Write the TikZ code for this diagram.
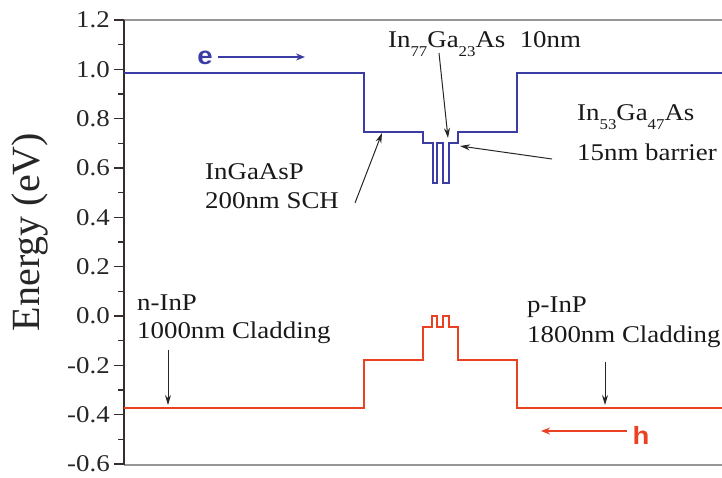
\documentclass[tikz,border=0pt]{standalone}
\usepackage{fontspec}
\setmainfont{Liberation Serif}[FakeStretch=1.12]
\newfontfamily\plainserif{Liberation Serif}
\newfontfamily\boldsans{Liberation Sans}[FakeStretch=1.1]
\usetikzlibrary{arrows.meta}
\definecolor{cband}{RGB}{60,60,165}
\definecolor{vband}{RGB}{235,65,35}
\definecolor{framegray}{RGB}{150,150,150}
\definecolor{axisdark}{RGB}{55,45,45}
\newcommand{\lsub}[1]{\raisebox{-0.4em}{\fontsize{15}{15}\selectfont #1}}
\begin{document}
\begin{tikzpicture}[x=1pt,y=-1pt,
  lbl/.style={font=\fontsize{24}{30}\selectfont, text=black!90, inner sep=0pt, anchor=base west},
  ticklbl/.style={font=\fontsize{24}{24}\selectfont, text=black!85, inner sep=0pt, anchor=east},
  cbline/.style={draw=cband, line width=2.8pt, line join=miter},
  vbline/.style={draw=vband, line width=2.8pt, line join=miter},
  pointer/.style={draw=black!85, line width=1pt, -{Stealth[length=10pt,width=6pt]}},
  carrier/.style={font=\boldsans\bfseries\fontsize{25}{25}\selectfont, inner sep=0pt},
  carrow/.style={line width=2pt, -{Stealth[length=9pt,width=7pt]}}
]
\useasboundingbox (0,0) rectangle (722,477);
% frame
\draw[framegray, line width=1.2pt] (124,20) -- (722,20);
\draw[framegray, line width=1.2pt] (124,465) -- (722,465);
\draw[axisdark, line width=1.5pt] (124,20) -- (124,465);
% ticks
\foreach \t [count=\k from 0] in {1.2,1.0,0.8,0.6,0.4,0.2,0.0,-0.2,-0.4,-0.6}{
  \draw[axisdark, line width=1.3pt] (114,{20+\k*49.333}) -- (124,{20+\k*49.333});
  \node[ticklbl] (tick\k) at (110,{20+\k*49.333}) {\t};
}
\foreach \k in {0,...,8}{
  \draw[axisdark, line width=1.3pt] (118,{44.667+\k*49.333}) -- (124,{44.667+\k*49.333});
}
\node[rotate=90, font=\plainserif\fontsize{40}{40}\selectfont, text=black!85] (ylabel) at (30,232) {Energy (eV)};
% bands
\draw[cbline] (124,73) -- (364,73) -- (364,132) -- (423,132) -- (423,143) -- (433,143) -- (433,183) -- (437,183) -- (437,143) -- (443,143) -- (443,183) -- (449,183) -- (449,143) -- (458,143) -- (458,132) -- (517,132) -- (517,73) -- (722,73);
\draw[vbline] (124,408) -- (364,408) -- (364,360) -- (423,360) -- (423,327) -- (432,327) -- (432,316) -- (437,316) -- (437,327) -- (443,327) -- (443,316) -- (449,316) -- (449,327) -- (458,327) -- (458,360) -- (517,360) -- (517,408) -- (722,408);
% carriers
\node[carrier, text=cband] (elab) at (205,58) {e};
\coordinate (estart) at (218,57);
\coordinate (eend) at (305,57);
\draw[carrow, cband] (estart) -- (eend);
\node[carrier, text=vband] (hlab) at (641,435) {h};
\coordinate (hstart) at (627,431);
\coordinate (hend) at (541,431);
\draw[carrow, vband] (hstart) -- (hend);
% labels
\node[lbl] (well) at (388,47) {In\lsub{77}Ga\lsub{23}As\hspace{0.6em}10nm};
\node[lbl] (bar1) at (577,120) {In\lsub{53}Ga\lsub{47}As};
\node[lbl] (bar2) at (577,160) {15nm barrier};
\node[lbl] (sch1) at (205,179) {InGaAsP};
\node[lbl] (sch2) at (205,208) {200nm SCH};
\node[lbl] (n1) at (137,310) {n-InP};
\node[lbl] (n2) at (137,338) {1000nm Cladding};
\node[lbl] (p1) at (527,312) {p-InP};
\node[lbl] (p2) at (527,342) {1800nm Cladding};
% pointers
\coordinate (wellS) at (439,53);  \coordinate (wellT) at (448,138);
\coordinate (barS) at (552,159);  \coordinate (barT) at (460,146);
\coordinate (schS) at (355,203);  \coordinate (schT) at (382,133);
\coordinate (nS) at (168,350);    \coordinate (nT) at (168,405);
\coordinate (pS) at (605,362);    \coordinate (pT) at (605,405);
\draw[pointer] (wellS) -- (wellT);
\draw[pointer] (barS) -- (barT);
\draw[pointer] (schS) -- (schT);
\draw[pointer] (nS) -- (nT);
\draw[pointer] (pS) -- (pT);
\end{tikzpicture}
\end{document}
